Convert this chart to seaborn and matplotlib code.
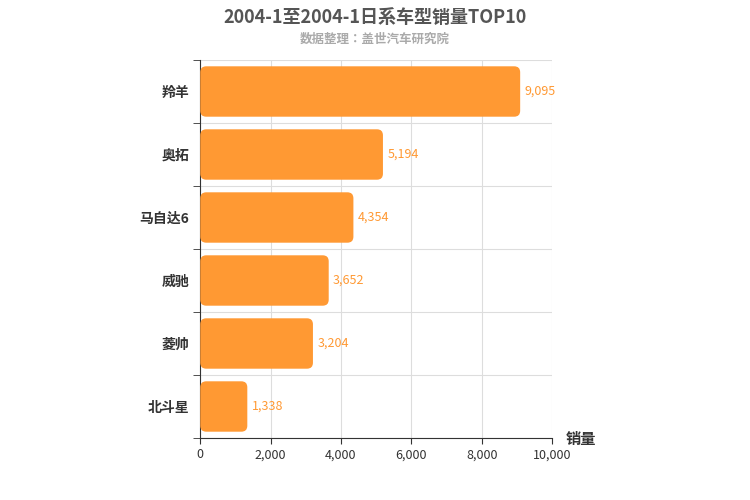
import matplotlib.pyplot as plt
import seaborn as sns
import pandas as pd
from matplotlib.patches import FancyBboxPatch

models = ["羚羊", "奥拓", "马自达6", "威驰", "菱帅", "北斗星"]
sales = [9095, 5194, 4354, 3652, 3204, 1338]

plt.rcParams["font.family"] = "sans-serif"
plt.rcParams["font.sans-serif"] = ["Noto Sans CJK SC", "Noto Sans CJK JP", "Noto Sans CJK TC",
                                   "Noto Sans CJK KR", "DejaVu Sans"]
df = pd.DataFrame({"model": models, "sales": sales})

fig = plt.figure(figsize=(7.5, 5), dpi=100)
ax = fig.add_axes([0.267, 0.124, 0.469, 0.756])
sns.barplot(data=df, y="model", x="sales", color="#FF9933", saturation=1, width=0.8, ax=ax)

# swap plain rectangles for rounded ones
xr = 10000 / 352
yr = 6 / 378
for p in list(ax.patches):
    x, y, w, h = p.get_x(), p.get_y(), p.get_width(), p.get_height()
    p.remove()
    ax.add_patch(FancyBboxPatch((x, y), w, h, boxstyle="round,pad=0,rounding_size=%f" % (6 * xr),
                                mutation_aspect=yr / xr, fc="#FF9933", ec="none", zorder=3))

for i, v in enumerate(sales):
    ax.text(v + 120, i, f"{v:,}", va="center", ha="left", color="#FF9933", fontsize=9)

ax.set_xlim(0, 10000)
ax.set_ylim(5.5, -0.5)
ax.set_xticks(range(0, 10001, 2000))
ax.set_xticklabels([f"{t:,}" for t in range(0, 10001, 2000)], fontsize=9, color="#333333")
ax.set_yticks(range(6))
ax.set_yticklabels(models, fontsize=10, fontweight="bold", color="#333333")
ax.set_yticks([i + 0.5 for i in range(-1, 6)], minor=True)
ax.tick_params(axis="y", which="major", length=0, pad=8)
ax.tick_params(axis="y", which="minor", length=5, color="#333333")
ax.tick_params(axis="x", length=4, color="#333333")
ax.grid(axis="x", color="#dddddd", zorder=0)
ax.grid(axis="y", which="minor", color="#dddddd", zorder=0)
ax.set_axisbelow(True)
for s in ["top", "right"]:
    ax.spines[s].set_visible(False)
ax.spines["bottom"].set_color("#333333")
ax.spines["left"].set_color("#333333")
ax.set_xlabel("")
ax.set_ylabel("")
fig.text(0.775, 0.112, "销量", fontsize=11, fontweight="bold", color="#333333", ha="center")

fig.text(0.5, 0.965, "2004-1至2004-1日系车型销量TOP10", ha="center", va="center",
         fontsize=13, fontweight="bold", color="#555555")
fig.text(0.5, 0.922, "数据整理：盖世汽车研究院", ha="center", va="center",
         fontsize=9, fontweight="bold", color="#aaaaaa")

fig.savefig("out.png")
